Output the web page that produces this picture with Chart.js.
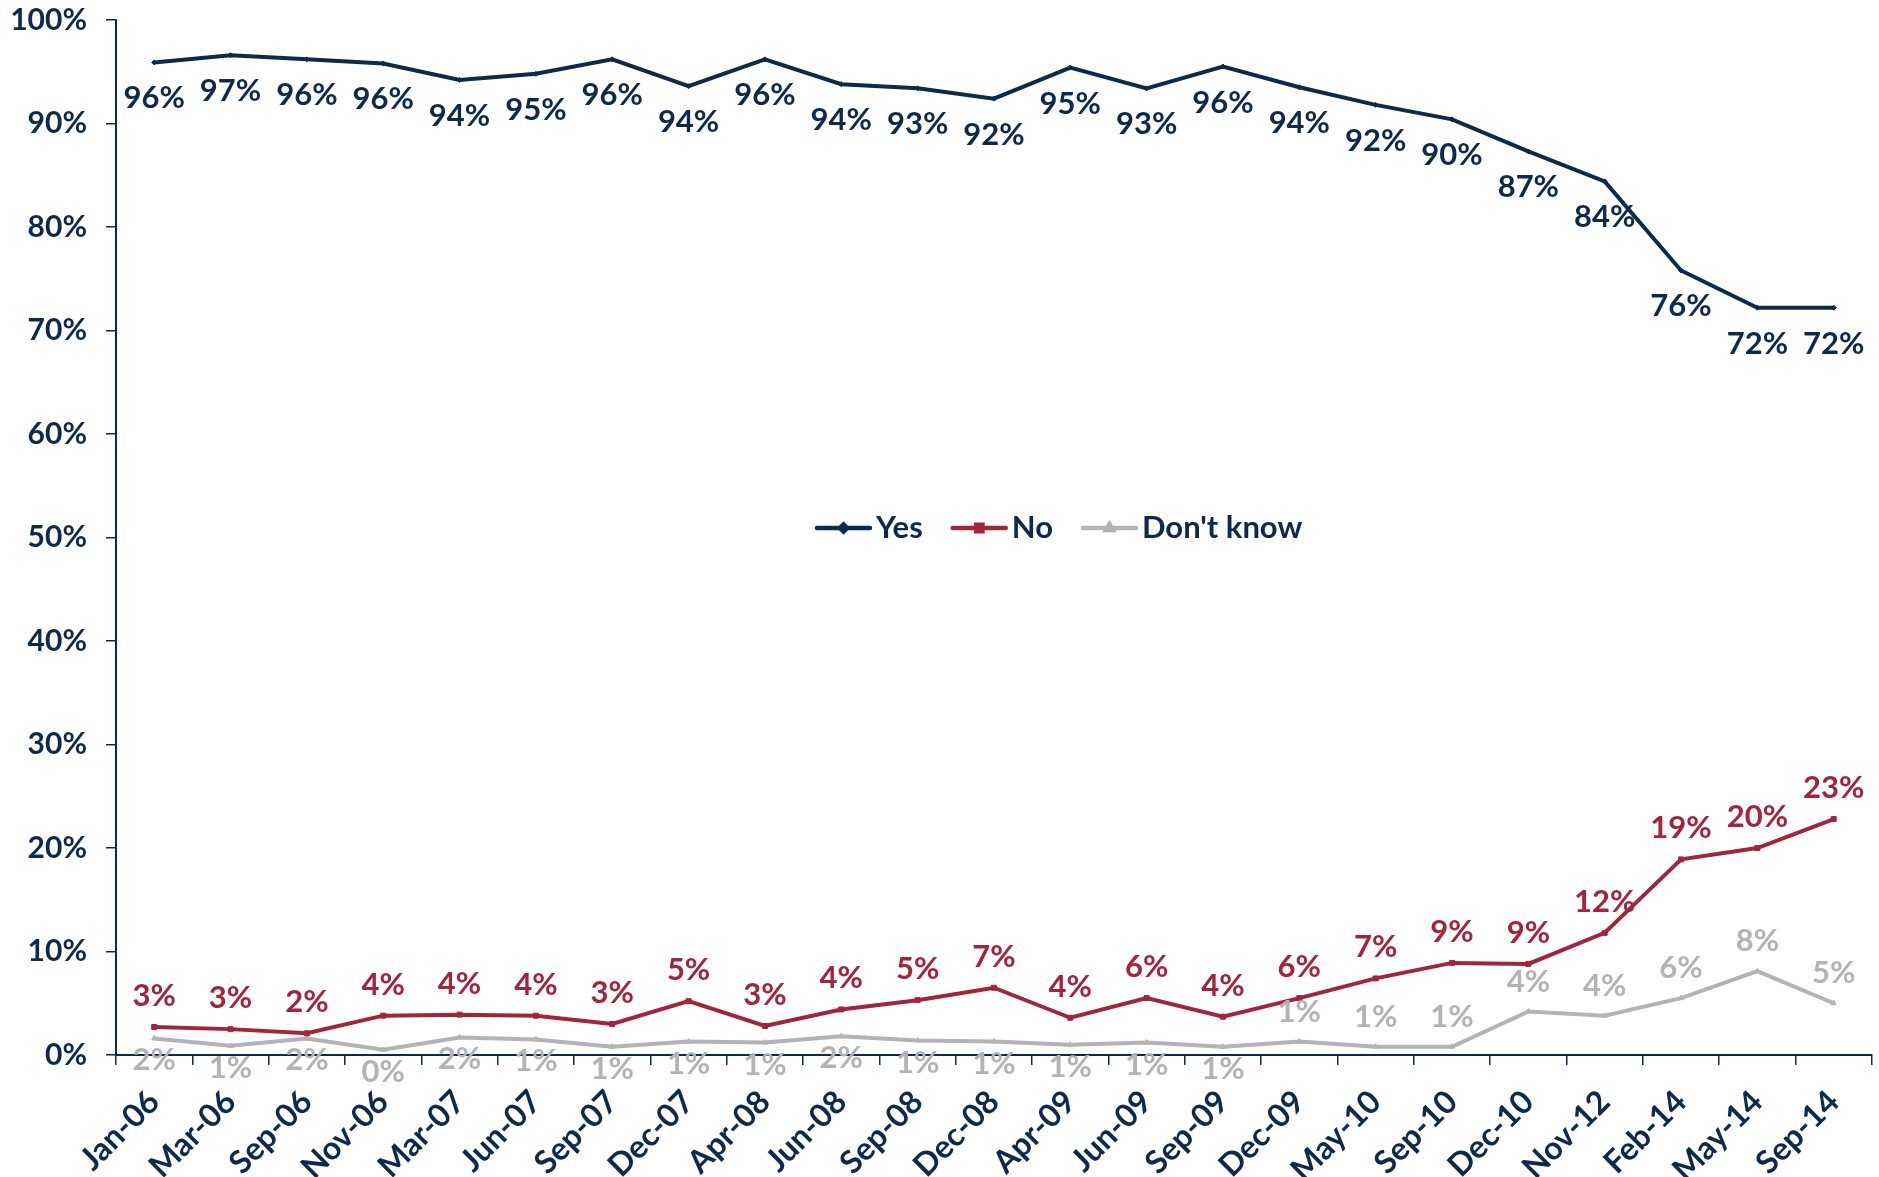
<!DOCTYPE html>
<html>
<head>
<meta charset="utf-8">
<script src="https://cdn.jsdelivr.net/npm/chart.js@4.4.1/dist/chart.umd.min.js"></script>
<style>
  html, body { margin: 0; padding: 0; background: #fff; }
  #wrap { width: 1879px; height: 1177px; position: relative; }
</style>
</head>
<body>
<div id="wrap"><canvas id="chart"></canvas></div>
<script>
const categories = ['Jan-06', 'Mar-06', 'Sep-06', 'Nov-06', 'Mar-07', 'Jun-07', 'Sep-07', 'Dec-07',
  'Apr-08', 'Jun-08', 'Sep-08', 'Dec-08', 'Apr-09', 'Jun-09', 'Sep-09', 'Dec-09', 'May-10',
  'Sep-10', 'Dec-10', 'Nov-12', 'Feb-14', 'May-14', 'Sep-14'];

const yesValues = [95.9, 96.6, 96.2, 95.8, 94.2, 94.8, 96.2, 93.6, 96.2, 93.8, 93.4, 92.4, 95.4,
  93.4, 95.5, 93.5, 91.8, 90.4, 87.3, 84.4, 75.8, 72.2, 72.2];
const noValues = [2.7, 2.5, 2.1, 3.8, 3.9, 3.8, 3.0, 5.2, 2.8, 4.4, 5.3, 6.5, 3.6, 5.5, 3.7, 5.5,
  7.4, 8.9, 8.8, 11.8, 18.9, 20.0, 22.8];
const dkValues = [1.6, 0.9, 1.6, 0.5, 1.7, 1.5, 0.8, 1.3, 1.2, 1.8, 1.4, 1.3, 1.0, 1.2, 0.8, 1.3,
  0.8, 0.8, 4.2, 3.8, 5.5, 8.1, 5.0];

const yesLabels = [96, 97, 96, 96, 94, 95, 96, 94, 96, 94, 93, 92, 95, 93, 96, 94, 92, 90, 87, 84, 76, 72, 72];
const noLabels = [3, 3, 2, 4, 4, 4, 3, 5, 3, 4, 5, 7, 4, 6, 4, 6, 7, 9, 9, 12, 19, 20, 23];
const dkLabels = [2, 1, 2, 0, 2, 1, 1, 1, 1, 2, 1, 1, 1, 1, 1, 1, 1, 1, 4, 4, 6, 8, 5];

const yTicks = [0, 10, 20, 30, 40, 50, 60, 70, 80, 90, 100];

const NAVY = '#0c2a4c';
const RED = '#a3243b';
const GREY = '#b3b3b3';
const FONT = 'Lato, "Open Sans", sans-serif';

// value labels drawn next to each point
const valueLabels = {
  id: 'valueLabels',
  afterDatasetsDraw(chart) {
    const ctx = chart.ctx;
    ctx.save();
    ctx.font = 'bold 31px ' + FONT;
    ctx.textAlign = 'center';
    ctx.textBaseline = 'middle';
    chart.data.datasets.forEach((ds, di) => {
      const meta = chart.getDatasetMeta(di);
      meta.data.forEach((pt, i) => {
        let dy;
        if (di === 0) dy = 36;
        else if (di === 1) dy = -31;
        else dy = i < 15 ? 22 : -30;
        ctx.fillStyle = ds.borderColor;
        ctx.fillText(ds.valueText[i] + '%', pt.x, pt.y + dy);
      });
    });
    ctx.restore();
  }
};

// legend placed inside the plot, as in the original
const innerLegend = {
  id: 'innerLegend',
  afterDraw(chart) {
    const ctx = chart.ctx;
    ctx.save();
    ctx.font = 'bold 31px ' + FONT;
    ctx.textBaseline = 'middle';
    let x = 817;
    const y = 528;
    chart.data.datasets.forEach(ds => {
      ctx.strokeStyle = ds.borderColor;
      ctx.lineWidth = 4.5;
      ctx.lineCap = 'round';
      ctx.beginPath();
      ctx.moveTo(x, y);
      ctx.lineTo(x + 53, y);
      ctx.stroke();
      Chart.helpers.drawPoint(ctx, {
        pointStyle: ds.pointStyle, radius: ds.pointRadius + 1, rotation: 0, borderWidth: 1
      }, x + 26.5, y);
      ctx.fillStyle = ds.borderColor;
      ctx.fill();
      ctx.fillStyle = NAVY;
      ctx.fillText(ds.label, x + 59, y);
      x += 59 + ctx.measureText(ds.label).width + 30;
    });
    ctx.restore();
  }
};

const mkSet = (label, data, text, color, style, r) => ({
  label, data, valueText: text,
  borderColor: color, backgroundColor: color,
  borderWidth: 4, tension: 0,
  pointStyle: style, pointRadius: r, pointHoverRadius: r,
  pointBackgroundColor: color, pointBorderColor: color, pointBorderWidth: 1
});

new Chart(document.getElementById('chart'), {
  type: 'line',
  data: {
    labels: categories,
    datasets: [
      mkSet('Yes', yesValues, yesLabels, NAVY, 'rectRot', 2.5),
      mkSet('No', noValues, noLabels, RED, 'rect', 3.5),
      mkSet("Don't know", dkValues, dkLabels, GREY, 'triangle', 3)
    ]
  },
  options: {
    responsive: true,
    maintainAspectRatio: false,
    animation: false,
    layout: { padding: { top: 20, right: 6, left: 0, bottom: 0 } },
    plugins: {
      legend: { display: false },
      tooltip: { enabled: false }
    },
    scales: {
      x: {
        offset: true,
        grid: {
          offset: true, drawOnChartArea: false, drawTicks: true,
          tickLength: 10, color: NAVY, lineWidth: 1.5
        },
        border: { display: true, color: NAVY, width: 2 },
        ticks: {
          autoSkip: false, maxRotation: 45, minRotation: 45, padding: 18,
          color: NAVY, font: { family: FONT, size: 32, weight: 'bold' }
        },
        afterFit(scale) { scale.height = 122; }
      },
      y: {
        min: 0, max: 100,
        afterBuildTicks(scale) { scale.ticks = yTicks.map(v => ({ value: v })); },
        grid: {
          drawOnChartArea: false, drawTicks: true,
          tickLength: 10, color: NAVY, lineWidth: 1.5
        },
        border: { display: true, color: NAVY, width: 2 },
        ticks: {
          padding: 19, color: NAVY,
          font: { family: FONT, size: 30, weight: 'bold' },
          callback: v => v + '%'
        },
        afterFit(scale) {
          scale.width = 116;
          scale.paddingTop = 0;
          scale.paddingBottom = 0;
        }
      }
    }
  },
  plugins: [valueLabels, innerLegend]
});
</script>
</body>
</html>
